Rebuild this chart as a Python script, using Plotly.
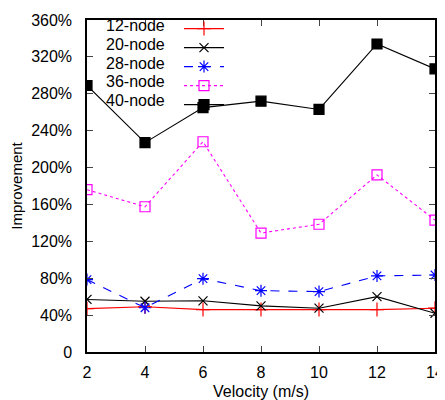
import plotly.graph_objects as go

velocity = [2, 4, 6, 8, 10, 12, 14]
node12 = [47, 49, 46, 46, 46, 46, 47.5]
node20 = [57, 55, 55.5, 50, 47.5, 60, 42]
node28 = [78.5, 48, 79.5, 66.5, 65.5, 82.5, 83.5]
node36 = [176, 157.5, 228, 129, 138.5, 192, 143]
node40 = [289, 227, 265, 272, 263, 334, 307]

ytick_vals = [0, 40, 80, 120, 160, 200, 240, 280, 320, 360]
ytick_text = ["0", "40%", "80%", "120%", "160%", "200%", "240%", "280%", "320%", "360%"]
xtick_vals = velocity
series_names = ["12-node", "20-node", "28-node", "36-node", "40-node"]

styles = [
    ("#ff0000", "solid", "cross-thin-open", 10),
    ("#000000", "solid", "x-thin-open", 9),
    ("#0000ff", "dash", "asterisk-open", 10),
    ("#ff00ff", "dot", "square-open", 10),
    ("#000000", "solid", "square", 10),
]
data = [node12, node20, node28, node36, node40]

fig = go.Figure()
for name, vals, (color, dash, sym, size) in zip(series_names, data, styles):
    fig.add_trace(go.Scatter(
        x=velocity, y=vals, name=" ", mode="lines+markers",
        legendgroup=name, hovertext=name,
        line=dict(color=color, width=1.1, dash=dash),
        marker=dict(symbol=sym, size=size, color=color,
                    line=dict(color=color, width=1.2)),
    ))

# page body has an 8px margin: figure is placed at (8, 8) in the window
# plot area in window pixels: x 87..435, y 14..352
def px_x(xp):
    return (xp - 87) / 348

def px_y(yp):
    return (352 - yp) / 338

row_h = 19
top_px = 20
annotations = []
for i, name in enumerate(series_names):
    ypx = top_px + i * row_h
    annotations.append(dict(
        text=name, xref="paper", yref="paper",
        x=px_x(167), y=px_y(ypx),
        xanchor="right", yanchor="middle", showarrow=False,
        font=dict(size=16, family="Liberation Sans, Arial, sans-serif", color="#000000"),
    ))

fnt = dict(family="Liberation Sans, Arial, sans-serif", size=16, color="#000000")
fig.update_layout(
    width=437, height=392,
    margin=dict(l=79, r=10, t=6, b=48),
    paper_bgcolor="white", plot_bgcolor="white",
    font=fnt,
    showlegend=True,
    annotations=annotations,
    legend=dict(x=px_x(179), y=px_y(top_px - 12),
                xanchor="left", yanchor="top",
                bgcolor="rgba(0,0,0,0)", font=dict(size=11),
                tracegroupgap=0, itemwidth=40),
    xaxis=dict(range=[2, 14], tickvals=xtick_vals, ticks="inside", ticklen=6,
               mirror="ticks", showline=True, linecolor="black", linewidth=1.5,
               showgrid=False, zeroline=False, automargin=False,
               ticklabelstandoff=5,
               title=dict(text="Velocity (m/s)", font=dict(size=16), standoff=9)),
    yaxis=dict(range=[0, 360], tickvals=ytick_vals, ticktext=ytick_text,
               ticks="inside", ticklen=6, mirror="ticks", showline=True,
               linecolor="black", linewidth=1.5, showgrid=False, zeroline=False,
               automargin=False, ticklabelstandoff=10,
               title=dict(text="Improvement", font=dict(size=15), standoff=6)),
)

fig.write_html("out.html")
